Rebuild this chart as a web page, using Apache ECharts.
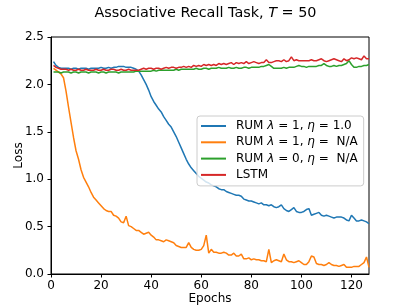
<!DOCTYPE html>
<html>
<head>
<meta charset="utf-8">
<script src="https://cdn.jsdelivr.net/npm/echarts@6/dist/echarts.min.js"></script>
<style>
html,body{margin:0;padding:0;background:#fff;}
#chart{width:411px;height:308px;}
</style>
</head>
<body>
<div id="chart"></div>
<script>
const epochs = [1,2,3,4,5,6,7,8,9,10,11,12,13,14,15,16,17,18,19,20,21,22,23,24,25,26,27,28,29,30,
31,32,33,34,35,36,37,38,39,40,41,42,43,44,45,46,47,48,49,50,51,52,53,54,55,56,57,58,59,60,
61,62,63,64,65,66,67,68,69,70,71,72,73,74,75,76,77,78,79,80,81,82,83,84,85,86,87,88,89,90,
91,92,93,94,95,96,97,98,99,100,101,102,103,104,105,106,107,108,109,110,111,112,113,114,115,116,117,118,119,120,
121,122,123,124,125,126,127];

const seriesNames = ['RUM λ = 1, η = 1.0', 'RUM λ = 1, η =  N/A', 'RUM λ = 0, η =  N/A', 'LSTM'];

const rumEta = [2.24,2.20,2.18,2.17,2.17,2.17,2.17,2.16,2.17,2.17,2.16,2.17,2.17,2.17,2.16,2.17,2.17,2.17,2.17,2.18,
2.17,2.17,2.18,2.17,2.18,2.18,2.19,2.19,2.19,2.18,2.18,2.18,2.17,2.16,2.14,2.10,2.05,2.00,1.94,1.87,
1.82,1.78,1.74,1.71,1.66,1.62,1.58,1.55,1.50,1.45,1.39,1.33,1.27,1.21,1.16,1.12,1.09,1.06,1.03,1.01,
0.99,0.97,0.96,0.94,0.93,0.92,0.90,0.89,0.89,0.87,0.86,0.85,0.84,0.83,0.83,0.82,0.79,0.78,0.77,0.77,
0.76,0.75,0.74,0.75,0.73,0.73,0.72,0.73,0.71,0.70,0.71,0.73,0.69,0.67,0.66,0.68,0.70,0.66,0.65,0.65,
0.66,0.68,0.69,0.62,0.63,0.64,0.65,0.62,0.61,0.62,0.61,0.60,0.59,0.60,0.60,0.60,0.59,0.57,0.56,0.62,
0.59,0.56,0.56,0.57,0.56,0.55,0.53];

const rumNoEta = [2.17,2.15,2.13,2.11,2.07,1.93,1.76,1.60,1.44,1.30,1.21,1.10,1.02,0.97,0.92,0.86,0.81,0.78,0.75,0.72,
0.69,0.67,0.66,0.66,0.62,0.61,0.59,0.55,0.54,0.61,0.51,0.50,0.48,0.46,0.46,0.44,0.42,0.43,0.44,0.41,
0.39,0.36,0.36,0.35,0.34,0.36,0.35,0.34,0.33,0.30,0.29,0.28,0.28,0.28,0.33,0.28,0.26,0.25,0.25,0.26,
0.30,0.41,0.22,0.26,0.23,0.23,0.22,0.22,0.23,0.22,0.20,0.20,0.22,0.19,0.19,0.21,0.16,0.16,0.17,0.15,
0.16,0.15,0.15,0.14,0.14,0.13,0.26,0.12,0.14,0.15,0.14,0.13,0.21,0.15,0.13,0.13,0.12,0.13,0.14,0.12,
0.10,0.10,0.13,0.19,0.18,0.11,0.10,0.10,0.09,0.10,0.12,0.10,0.09,0.09,0.08,0.09,0.10,0.07,0.07,0.07,
0.08,0.08,0.08,0.10,0.12,0.18,0.07];

const rumZero = [2.13,2.13,2.13,2.12,2.13,2.13,2.13,2.12,2.13,2.13,2.12,2.13,2.13,2.13,2.12,2.13,2.13,2.13,2.12,2.13,
2.13,2.12,2.13,2.13,2.13,2.13,2.12,2.13,2.13,2.13,2.13,2.13,2.13,2.14,
2.14,2.14,2.14,2.14,2.14,2.14,2.15,2.14,2.15,2.15,2.15,2.15,2.15,2.15,2.15,2.16,2.15,2.16,2.16,2.16,2.16,2.16,2.16,2.17,2.16,2.16,
2.17,2.17,2.16,2.17,2.17,2.17,2.18,2.17,2.17,2.17,2.18,2.17,2.17,2.18,2.17,2.17,2.18,2.18,2.17,2.18,2.18,2.18,2.18,2.19,2.19,
2.20,2.21,2.19,2.17,2.17,2.17,2.17,2.18,2.17,2.18,2.18,2.18,2.19,2.20,2.19,2.19,2.18,2.19,2.19,2.19,2.19,2.20,2.20,2.22,2.20,
2.19,2.19,2.20,2.19,2.20,2.20,2.21,2.22,2.25,2.21,2.18,2.18,2.19,2.19,2.20,2.20,2.21];

const lstm = [2.20,2.18,2.17,2.16,2.16,2.16,
2.15,2.16,2.15,2.15,2.16,2.15,2.15,2.16,2.15,2.15,2.15,2.16,2.15,2.15,2.16,2.15,2.15,2.16,2.16,2.15,2.15,2.16,2.15,2.15,2.16,2.15,2.15,2.15,
2.15,2.16,2.17,2.16,2.17,2.17,2.16,2.17,2.17,2.16,2.17,2.18,2.17,2.18,2.18,2.17,2.18,2.18,2.19,2.18,2.19,2.18,2.20,2.19,2.20,2.19,
2.21,2.20,2.21,2.20,2.21,2.20,2.22,2.21,2.22,2.21,2.22,2.23,2.21,2.23,2.22,2.23,2.22,2.24,2.22,2.23,
2.24,2.23,2.22,2.23,2.23,2.26,2.23,2.23,2.24,2.25,2.25,2.24,2.26,2.24,2.25,2.29,2.25,2.26,2.25,2.25,
2.25,2.25,2.25,2.26,2.25,2.25,2.26,2.27,2.25,2.24,2.25,2.26,2.27,2.26,2.25,2.24,2.27,2.25,2.26,2.28,
2.27,2.28,2.27,2.26,2.30,2.27,2.27];

const colors = ['#1f77b4', '#ff7f0e', '#2ca02c', '#d62728'];
const allValues = [rumEta, rumNoEta, rumZero, lstm];

const FONT = 'DejaVu Sans';
const chart = echarts.init(document.getElementById('chart'));

const series = allValues.map((vals, k) => ({
  name: seriesNames[k],
  type: 'line',
  showSymbol: false,
  symbol: 'none',
  data: epochs.map((e, i) => [e, vals[i]]),
  lineStyle: { color: colors[k], width: 1.5 },
  itemStyle: { color: colors[k] },
  z: 2 + k,
  animation: false
}));

chart.setOption({
  animation: false,
  backgroundColor: '#fff',
  title: {
    text: 'Associative Recall Task, {i|T} = 50',
    left: 'center',
    top: 1,
    textStyle: {
      fontFamily: FONT, fontSize: 14.4, fontWeight: 'normal', color: '#000',
      rich: { i: { fontFamily: FONT, fontSize: 14.4, fontStyle: 'italic', color: '#000' } }
    }
  },
  grid: {
    left: 51, right: 42, top: 37, bottom: 34,
    outerBoundsMode: 'none',
    containLabel: false,
    show: true, borderColor: '#000', borderWidth: 1, backgroundColor: 'transparent'
  },
  legend: {
    data: seriesNames,
    orient: 'vertical',
    left: 197,
    top: 116,
    itemWidth: 25,
    itemHeight: 14,
    itemGap: 4.3,
    padding: [4, 6, 5, 4],
    backgroundColor: 'rgba(255,255,255,0.8)',
    borderColor: '#cccccc',
    borderWidth: 1,
    borderRadius: 3,
    icon: 'path://M0,6 L25,6 L25,8 L0,8 Z',
    formatter: function (name) {
      return name.replace('λ', '{i|λ}').replace('η', '{i|η}');
    },
    textStyle: {
      fontFamily: FONT, fontSize: 12, color: '#000', padding: [0, 0, 0, 5],
      rich: { i: { fontFamily: FONT, fontSize: 12, fontStyle: 'italic', color: '#000' } }
    }
  },
  xAxis: {
    type: 'value',
    min: 0, max: 127, interval: 20,
    name: 'Epochs',
    nameLocation: 'middle',
    nameGap: 19,
    nameMoveOverlap: false,
    nameTextStyle: { fontFamily: FONT, fontSize: 12, color: '#000' },
    axisLine: { show: true, lineStyle: { color: '#000', width: 1 } },
    axisTick: { show: true, length: 3.5, lineStyle: { color: '#000' } },
    axisLabel: { fontFamily: FONT, fontSize: 12, color: '#000', margin: 6 },
    splitLine: { show: false }
  },
  yAxis: {
    type: 'value',
    min: 0, max: 2.5, interval: 0.5,
    name: 'Loss',
    nameLocation: 'middle',
    nameGap: 26,
    nameMoveOverlap: false,
    nameTextStyle: { fontFamily: FONT, fontSize: 12, color: '#000' },
    axisLine: { show: true, lineStyle: { color: '#000', width: 1 } },
    axisTick: { show: true, length: 3.5, lineStyle: { color: '#000' } },
    axisLabel: { fontFamily: FONT, fontSize: 12, color: '#000', margin: 7,
      formatter: v => v.toFixed(1) },
    splitLine: { show: false }
  },
  series: series
});
</script>
</body>
</html>
